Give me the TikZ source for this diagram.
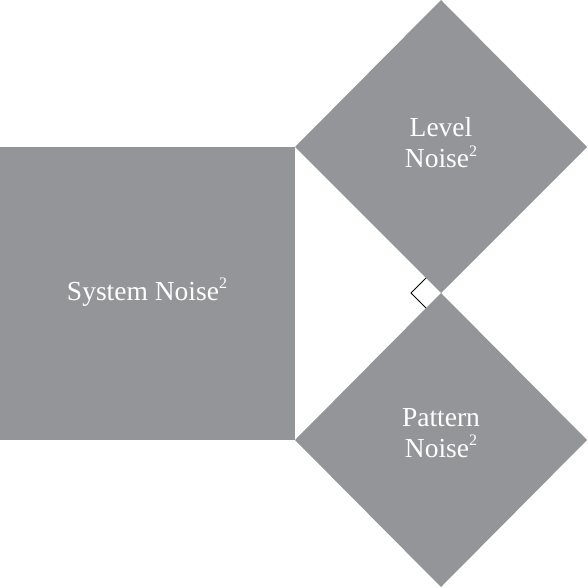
\documentclass[tikz,border=0pt]{standalone}
\usepackage{fontspec}
\setmainfont{Liberation Serif}
\usetikzlibrary{calc}
\definecolor{noisegray}{RGB}{147,149,152}
\newcommand{\sqmark}{\smash{\raisebox{0.42em}{\fontsize{16}{16}\selectfont 2}}}
\tikzset{noise area/.style={fill=noisegray, draw=none},
	noise label/.style={text=white, font=\fontsize{27.5}{31}\selectfont, align=center, inner sep=0pt}}

\begin{document}
\begin{tikzpicture}[x=1pt,y=1pt,line cap=round,line join=round]
			\useasboundingbox (0,0) rectangle (588,587);
			
			% corners of the triangle
			\coordinate (A) at (295,440);
			\coordinate (B) at (295,147);
			\coordinate (C) at (441,294);
			
			\fill[noise area] (0,147) rectangle (A);
			\fill[noise area] (A) -- (441,587) -- (587,440) -- (C) -- cycle;
			\fill[noise area] (C) -- (587,147) -- (441,0) -- (B) -- cycle;
			
			\draw[line width=0.9pt, line cap=butt, line join=miter] ($(C)+(-15,15)$) -- ($(C)+(-30,0)$) -- ($(C)+(-15,-15)$);
			
			\node[noise label, anchor=base] (system) at (147,287) {System Noise\sqmark};
			\node[noise label, anchor=base] (level) at (441,419) {Level\\Noise\sqmark};
			\node[noise label, anchor=base] (pattern) at (441,130) {Pattern\\Noise\sqmark};
		\end{tikzpicture}
\end{document}
